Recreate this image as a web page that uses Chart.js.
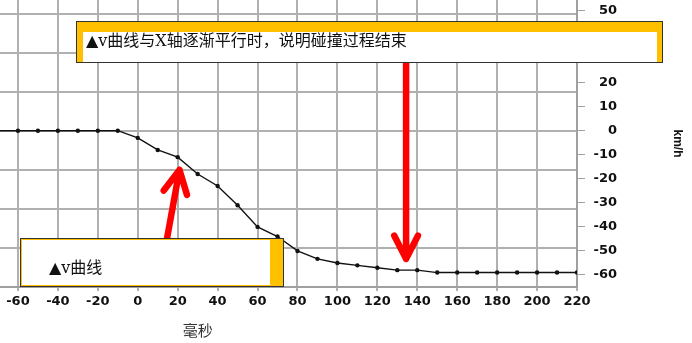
<!DOCTYPE html>
<html>
<head>
<meta charset="utf-8">
<script src="https://cdn.jsdelivr.net/npm/chart.js@4/dist/chart.umd.min.js"></script>
<style>
  html, body { margin: 0; padding: 0; background: #fff; }
  canvas { display: block; }
</style>
</head>
<body>
<canvas id="speedChart" width="692" height="343"></canvas>
<script>
// tiempo (ms) y velocidad (km/h)
const times = [-70, -60, -50, -40, -30, -20, -10, 0, 10, 20, 30, 40, 50, 60, 70, 80, 90, 100, 110, 120, 130, 140, 150, 160, 170, 180, 190, 200, 210, 220];
const speeds = [0, 0, 0, 0, 0, 0, 0, -3, -8, -11, -18, -23, -31, -40, -44, -50, -53.3, -55, -56, -57, -58, -58, -59, -59, -59, -59, -59, -59, -59, -59];
const xTicks = [-60, -40, -20, 0, 20, 40, 60, 80, 100, 120, 140, 160, 180, 200, 220];
const yTicks = [-60, -50, -40, -30, -20, -10, 0, 10, 20, 30, 40, 50];
const gridLevels = [-64.8, -48.6, -32.4, -16.2, 0, 16.2, 32.4, 48.6];
const xTitle = '毫秒';
const yTitle = 'km/h';
const noteTop = '▲v曲线与X轴逐渐平行时，说明碰撞过程结束';
const noteBottom = '▲v曲线';

// anotaciones en unidades de datos (ms, km/h)
const boxes = [
  { x1: -30.9, x2: 263.1, y1: 45.6, y2: 28.15, band: [11, 6, 1, 7], text: noteTop, tx: 10, ty: 21 },
  { x1: -59, x2: 73.3, y1: -44.6, y2: -65, band: [2, 14, 2, 2], text: noteBottom, tx: 29, ty: 31 }
];
const arrows = [
  { from: [13.6, -49.6], to: [20.9, -16.3] },
  { from: [134.4, 31.5], to: [134.4, -53.3] }
];

const tickFont = { family: 'DejaVu Sans', weight: 'bold', size: 13 };
const gridColor = '#b0b0b0';

function noPad(s) {
  s.paddingTop = 0; s.paddingBottom = 0; s.paddingLeft = 0; s.paddingRight = 0;
}

function drawArrow(ctx, x0, y0, x1, y1) {
  const ang = Math.atan2(y0 - y1, x0 - x1);
  const len = 26, spread = 27 * Math.PI / 180;
  ctx.beginPath();
  ctx.moveTo(x0, y0);
  ctx.lineTo(x1, y1);
  ctx.moveTo(x1 + len * Math.cos(ang + spread), y1 + len * Math.sin(ang + spread));
  ctx.lineTo(x1, y1);
  ctx.lineTo(x1 + len * Math.cos(ang - spread), y1 + len * Math.sin(ang - spread));
  ctx.stroke();
}

const overlay = {
  id: 'overlay',
  beforeDatasetsDraw(chart) {
    const { ctx, scales: { x, y } } = chart;
    ctx.save();
    ctx.strokeStyle = '#ff0000';
    ctx.lineWidth = 6.5;
    ctx.lineCap = 'round';
    ctx.lineJoin = 'round';
    arrows.forEach(a => drawArrow(ctx,
      x.getPixelForValue(a.from[0]), y.getPixelForValue(a.from[1]),
      x.getPixelForValue(a.to[0]), y.getPixelForValue(a.to[1])));
    ctx.restore();
  },
  afterDatasetsDraw(chart) {
    const { ctx, scales: { x, y } } = chart;
    ctx.save();
    boxes.forEach(b => {
      const l = Math.round(x.getPixelForValue(b.x1));
      const r = Math.round(x.getPixelForValue(b.x2));
      const t = Math.round(y.getPixelForValue(b.y1));
      const bt = Math.round(y.getPixelForValue(b.y2));
      ctx.fillStyle = '#ffc000';
      ctx.fillRect(l, t, r - l, bt - t);
      ctx.fillStyle = '#ffffff';
      ctx.fillRect(l + b.band[3], t + b.band[0], r - l - b.band[1] - b.band[3], bt - t - b.band[0] - b.band[2]);
      ctx.strokeStyle = '#333';
      ctx.lineWidth = 1;
      ctx.strokeRect(l + 0.5, t + 0.5, r - l - 1, bt - t - 1);
      ctx.fillStyle = '#111';
      ctx.font = '16px "DejaVu Serif", "Noto Sans CJK SC"';
      ctx.textAlign = 'left';
      ctx.textBaseline = 'middle';
      ctx.fillText(b.text, l + b.tx, t + b.ty);
    });
    // título del eje x
    ctx.fillStyle = '#333';
    ctx.font = '15px "Noto Sans CJK SC"';
    ctx.textAlign = 'center';
    ctx.textBaseline = 'middle';
    ctx.fillText(xTitle, x.getPixelForValue(30), chart.chartArea.bottom + 43);
    ctx.restore();
  }
};

new Chart(document.getElementById('speedChart').getContext('2d'), {
  type: 'line',
  data: {
    datasets: [{
      data: times.map((t, i) => ({ x: t, y: speeds[i] })),
      borderColor: '#111',
      borderWidth: 1.4,
      pointRadius: ctx => times[ctx.dataIndex] < -60 ? 0 : 2.2,
      pointBackgroundColor: '#111',
      pointBorderWidth: 0,
      tension: 0
    }]
  },
  options: {
    responsive: false,
    animation: false,
    devicePixelRatio: 1,
    layout: { autoPadding: false, padding: { left: 0, top: 0, bottom: 0, right: 75 } },
    plugins: { legend: { display: false }, tooltip: { enabled: false } },
    scales: {
      x: {
        type: 'linear', min: -69, max: 220,
        afterBuildTicks: s => { s.ticks = xTicks.map(v => ({ value: v })); },
        afterFit: s => { s.height = 56; noPad(s); },
        grid: { color: gridColor, lineWidth: 2, tickLength: 4 },
        border: { color: '#a0a0a0', width: 2 },
        ticks: { padding: 3, maxRotation: 0, autoSkip: false, color: '#111', font: tickFont }
      },
      y: {
        position: 'right', min: -65, max: 54.35,
        afterBuildTicks: s => { s.ticks = yTicks.map(v => ({ value: v })); },
        afterFit: s => { s.width = 40; noPad(s); },
        grid: { drawOnChartArea: false, tickLength: 8, color: '#a0a0a0', lineWidth: 1 },
        border: { color: '#a0a0a0', width: 2 },
        ticks: { crossAlign: 'far', padding: 8, color: '#111', font: tickFont },
        title: { display: true, text: yTitle, color: '#111', padding: { top: -68, bottom: 0 },
                 font: { family: 'Liberation Sans', weight: 'bold', size: 12 } }
      },
      yGrid: {
        position: 'left', min: -65, max: 54.35,
        afterBuildTicks: s => { s.ticks = gridLevels.map(v => ({ value: v })); },
        afterFit: s => { s.width = 0; noPad(s); },
        ticks: { display: false },
        grid: { color: gridColor, lineWidth: 2, drawTicks: false },
        border: { display: false }
      }
    }
  },
  plugins: [overlay]
});
</script>
</body>
</html>
